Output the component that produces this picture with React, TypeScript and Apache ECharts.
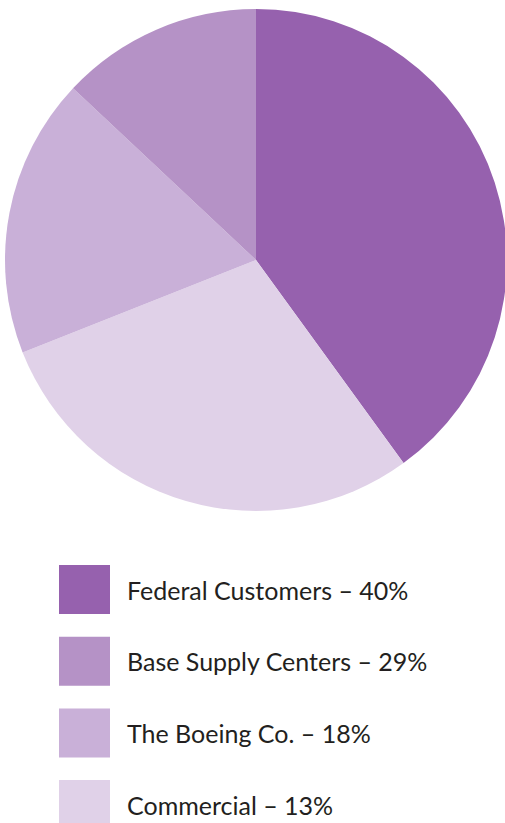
import React, { useEffect, useRef } from "react";
import * as echarts from "echarts";

const categories = ["Federal Customers", "Base Supply Centers", "The Boeing Co.", "Commercial"];
const shares = [40, 29, 18, 13];
const sliceColors = ["#9661ae", "#e0d1e8", "#c9b0d8", "#b592c6"];
const legendColors = ["#9661ae", "#b592c6", "#c9b0d8", "#e0d1e8"];

export default function App() {
  const ref = useRef<HTMLDivElement>(null);
  useEffect(() => {
    if (!ref.current) return;
    const chart = echarts.init(ref.current, null, { renderer: "svg" });
    chart.setOption({
      animation: false,
      backgroundColor: "#ffffff",
      legend: {
        orient: "vertical",
        left: 59,
        top: 565,
        height: 300,
        padding: 0,
        itemWidth: 51,
        itemHeight: 49,
        itemGap: 22.7,
        selectedMode: false,
        icon: "rect",
        data: categories.map((c, i) => ({ name: c, itemStyle: { color: legendColors[i] } })),
        formatter: (name: string) => `${name} – ${shares[categories.indexOf(name)]}%`,
        textStyle: {
          fontFamily: "Lato",
          fontSize: 25,
          color: "#231f20",
          padding: [0, 0, 0, 12],
        },
      },
      series: [
        {
          type: "pie",
          center: [256, 260],
          radius: [0, 251],
          startAngle: 90,
          clockwise: true,
          silent: true,
          label: { show: false },
          labelLine: { show: false },
          itemStyle: { borderWidth: 0 },
          emphasis: { disabled: true },
          data: categories.map((c, i) => ({
            name: c,
            value: shares[i],
            itemStyle: { color: sliceColors[i] },
          })),
        },
      ],
    });
    return () => chart.dispose();
  }, []);
  return (
    <div
      ref={ref}
      style={{ position: "fixed", left: 0, top: 0, width: 505, height: 823 }}
    />
  );
}
